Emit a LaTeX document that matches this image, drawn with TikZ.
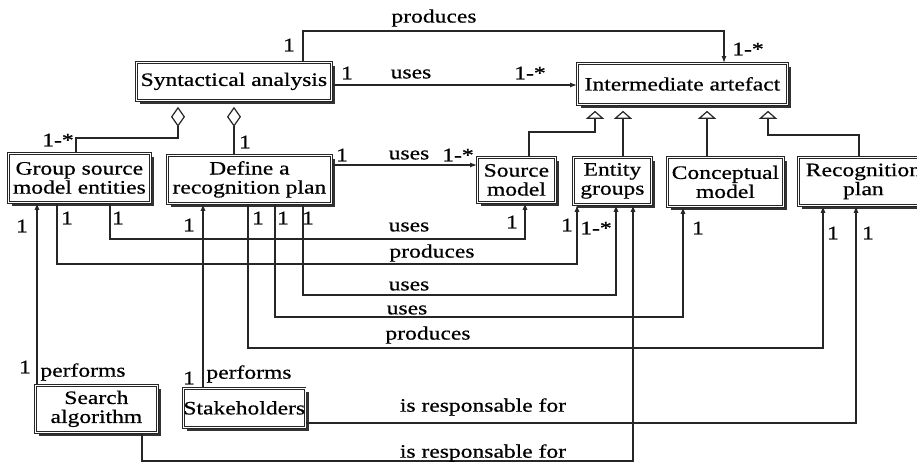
\documentclass[tikz,border=0pt]{standalone}
\usepackage{fontspec}
\setmainfont{Liberation Serif}[FakeStretch=1.24,FakeBold=0.6]
\usetikzlibrary{arrows.meta,shadows}
\begin{document}
\begin{tikzpicture}[x=1pt,y=-1pt,font=\fontsize{19}{19}\selectfont,
	box/.style={draw=black!85, line width=0.8pt, double, double distance=0.9pt, fill=white, inner sep=0pt, align=center, anchor=north west, drop shadow={shadow xshift=4pt, shadow yshift=-4pt, fill=black!80, opacity=1}},
	lbl/.style={inner sep=0pt},
	rel/.style={draw=black!85, line width=1.2pt, -{Latex[length=7pt,width=5pt]}},
	agg/.style={draw=black!85, line width=1.2pt, shorten >=6pt, -{Diamond[open,length=20pt,width=14pt,line width=1.2pt]}},
	gen/.style={draw=black!85, line width=1.2pt, shorten >=6pt, -{Triangle[open,length=8pt,width=18pt,line width=1.2pt]}}]
	\useasboundingbox (0,0) rectangle (917,463);
	\node[box, minimum width=195pt, minimum height=38pt] (syn) at (136,62) {Syntactical analysis};
	\node[box, minimum width=210pt, minimum height=41pt] (inter) at (577,63) {Intermediate artefact};
	\node[box, minimum width=142pt, minimum height=49pt] (group) at (8,153) {Group source\\model entities};
	\node[box, minimum width=164pt, minimum height=48pt] (define) at (167,155) {Define a\\recognition plan};
	\node[box, minimum width=78pt, minimum height=45pt] (source) at (477,157) {Source\\model};
	\node[box, minimum width=78pt, minimum height=47pt] (entity) at (573,157) {Entity\\groups};
	\node[box, minimum width=116pt, minimum height=49pt] (concept) at (667,157) {Conceptual\\model};
	\node[box, minimum width=130pt, minimum height=48pt] (recog) at (798,157) {Recognition\\plan};
	\node[box, minimum width=122pt, minimum height=47pt] (search) at (35,385) {Search\\algorithm};
	\node[box, minimum width=121pt, minimum height=39pt] (stake) at (183,388) {Stakeholders};
	\draw[rel] (303,0 |- syn.north) |- (724,31) -- (724,0 |- inter.north);
	\draw[rel] (syn.east |- 0,85) -- (inter.west |- 0,85);
	\draw[agg] (76,0 |- group.north) |- (178,138) -- (178,0 |- syn.south);
	\draw[agg] (234,0 |- define.north) -- (234,0 |- syn.south);
	\draw[rel] (define.east |- 0,165) -- (source.west |- 0,165);
	\draw[gen] (529,0 |- source.north) |- (595,132) -- (595,0 |- inter.south);
	\draw[gen] (623,0 |- entity.north) -- (623,0 |- inter.south);
	\draw[gen] (707,0 |- concept.north) -- (707,0 |- inter.south);
	\draw[gen] (859,0 |- recog.north) |- (768,135) -- (768,0 |- inter.south);
	\draw[rel] (110,0 |- group.south) |- (525,239) -- (525,0 |- source.south);
	\draw[rel] (57,0 |- group.south) |- (577,264) -- (577,0 |- entity.south);
	\draw[rel] (303,0 |- define.south) |- (616,295) -- (616,0 |- entity.south);
	\draw[rel] (275,0 |- define.south) |- (683,317) -- (683,0 |- concept.south);
	\draw[rel] (248,0 |- define.south) |- (823,348) -- (823,0 |- recog.south);
	\draw[rel] (37,0 |- search.north) -- (37,0 |- group.south);
	\draw[rel] (142,0 |- search.south) |- (633,461) -- (633,0 |- entity.south);
	\draw[rel] (203,0 |- stake.north) -- (203,0 |- define.south);
	\draw[rel] (stake.east |- 0,423) -| (856,0 |- recog.south);
	\node[lbl] (prodtop) at (434,18) {produces};
	\node[lbl] (prodtopA) at (289,45) {1};
	\node[lbl] (prodtopB) at (748,49) {1-*};
	\node[lbl] (usestopA) at (347,73) {1};
	\node[lbl] (usestop) at (411,74) {uses};
	\node[lbl] (usestopB) at (530,73) {1-*};
	\node[lbl] (aggA) at (58,140) {1-*};
	\node[lbl] (aggB) at (245,142) {1};
	\node[lbl] (usesdefA) at (342,155) {1};
	\node[lbl] (usesdef) at (409,155) {uses};
	\node[lbl] (usesdefB) at (458,155) {1-*};
	\node[lbl] (grpA) at (22,226) {1};
	\node[lbl] (grpB) at (67,218) {1};
	\node[lbl] (grpC) at (118,218) {1};
	\node[lbl] (defA) at (189,225) {1};
	\node[lbl] (defB) at (258,218) {1};
	\node[lbl] (defC) at (283,218) {1};
	\node[lbl] (defD) at (308,218) {1};
	\node[lbl] (usesA) at (409,227) {uses};
	\node[lbl] (prodA) at (432,253) {produces};
	\node[lbl] (usesB) at (409,286) {uses};
	\node[lbl] (usesC) at (407,310) {uses};
	\node[lbl] (prodB) at (428,335) {produces};
	\node[lbl] (srcA) at (512,222) {1};
	\node[lbl] (entA) at (567,225) {1};
	\node[lbl] (entB) at (596,228) {1-*};
	\node[lbl] (conA) at (698,228) {1};
	\node[lbl] (recA) at (833,233) {1};
	\node[lbl] (recB) at (868,233) {1};
	\node[lbl] (srchA) at (25,367) {1};
	\node[lbl] (srchperf) at (83,372) {performs};
	\node[lbl] (stkA) at (189,378) {1};
	\node[lbl] (stkperf) at (249,374) {performs};
	\node[lbl] (respA) at (483,407) {is responsable for};
	\node[lbl] (respB) at (483,453) {is responsable for};
\end{tikzpicture}
\end{document}
